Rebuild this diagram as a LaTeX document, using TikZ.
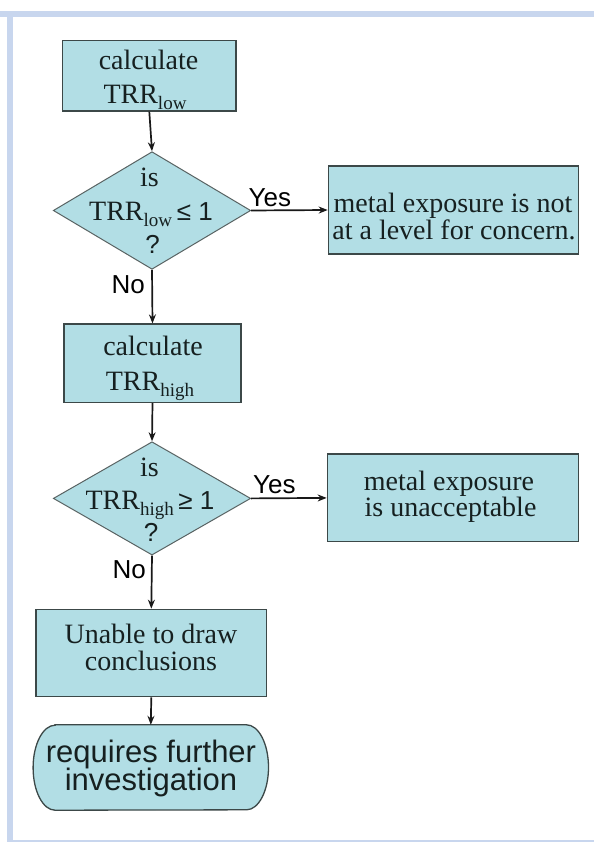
\documentclass[tikz,border=0pt]{standalone}
\usepackage{fontspec}
\setmainfont{Liberation Serif}
\newfontfamily\sansf{Liberation Sans}
\usetikzlibrary{shapes.geometric,arrows.meta}
\definecolor{boxfill}{RGB}{178,222,229}
\definecolor{boxline}{RGB}{60,72,72}
\definecolor{framecol}{RGB}{200,214,238}
\definecolor{txt}{RGB}{22,32,32}
\newcommand\mysub[1]{\raisebox{-6pt}{\fontsize{19}{19}\selectfont #1}}
\newcommand\mysans[1]{{\sansf\fontsize{26}{26}\selectfont #1}}
\begin{document}
\begin{tikzpicture}[x=1pt,y=-1pt,
  procbox/.style={draw=boxline,line width=1.3pt,fill=boxfill,inner sep=0pt},
  decbox/.style={shape=diamond,draw=boxline!85,line width=1pt,fill=boxfill,inner sep=0pt},
  termbox/.style={draw=none,inner sep=0pt},
  sertxt/.style={anchor=base,text=txt,font=\fontsize{28}{28}\selectfont,inner sep=0pt},
  santxt/.style={anchor=base,text=txt,font=\sansf\fontsize{26}{26}\selectfont,inner sep=0pt},
  lbltxt/.style={anchor=base west,text=black,font=\sansf\fontsize{26}{26}\selectfont,inner sep=0pt},
  termtxt/.style={anchor=base,text=txt,font=\sansf\fontsize{31}{31}\selectfont,inner sep=0pt},
  flow/.style={-{Stealth[length=9pt,width=7pt]},line width=1.7pt,draw=black!90}]
\useasboundingbox (0,0) rectangle (594,842);
\fill[white] (0,0) rectangle (594,842);
% frame
\fill[framecol] (0,11) rectangle (594,17);
\fill[framecol] (7,11) rectangle (13,841);
\fill[framecol] (7,840) rectangle (594,841.5);

% shapes
\node[procbox,minimum width=173.3pt,minimum height=70.3pt] (b1) at (149.3,75.9) {};
\node[decbox,minimum width=197.4pt,minimum height=117.6pt] (d1) at (152,210.5) {};
\node[procbox,minimum width=250pt,minimum height=88pt] (b2) at (453.3,210) {};
\node[procbox,minimum width=177pt,minimum height=78.3pt] (b3) at (152.5,363.2) {};
\node[decbox,minimum width=197.4pt,minimum height=113.3pt] (d2) at (152,498.4) {};
\node[procbox,minimum width=251pt,minimum height=87.7pt] (b4) at (452.8,497.9) {};
\node[procbox,minimum width=230.7pt,minimum height=87.4pt] (b5) at (151.3,653) {};
\node[termbox,minimum width=235pt,minimum height=85pt] (t) at (150.8,767.5) {};
\draw[draw=boxline,line width=1.3pt,fill=boxfill]
  ([xshift=22pt]t.north west) -- ([xshift=-22pt]t.north east)
  arc[start angle=90,end angle=-90,x radius=22pt,y radius=42.5pt]
  -- ([xshift=22pt]t.south west)
  arc[start angle=270,end angle=90,x radius=22pt,y radius=42.5pt] -- cycle;

% texts
\node[sertxt] (b1a) at (148.5,69.3) {calculate};
\node[sertxt] (b1b) at (145,104) {TRR\mysub{low}};
\node[sertxt] (d1a) at (149.5,186.7) {is};
\node[sertxt] (d1b) at (151,220.7) {TRR\mysub{low}\,\mysans{≤ 1}};
\node[santxt] (d1c) at (152.5,253.3) {?};
\node[sertxt] (b2a) at (453,213) {metal exposure is not};
\node[sertxt] (b2b) at (454,239) {at a level for concern.};
\node[sertxt] (b3a) at (153,355) {calculate};
\node[sertxt] (b3b) at (150,390) {TRR\mysub{high}};
\node[sertxt] (d2a) at (149.5,476.7) {is};
\node[sertxt] (d2b) at (150,509.3) {TRR\mysub{high}\,\mysans{≥ 1}};
\node[santxt] (d2c) at (151,541.7) {?};
\node[sertxt] (b4a) at (449,490) {metal exposure};
\node[sertxt] (b4b) at (450.5,516) {is unacceptable};
\node[sertxt] (b5a) at (151,643.3) {Unable to draw};
\node[sertxt] (b5b) at (151,670) {conclusions};
\node[termtxt] (ta) at (151,762) {requires further};
\node[termtxt] (tb) at (151,790) {investigation};

% labels
\node[lbltxt] (y1) at (248.5,206.7) {Yes};
\node[lbltxt] (n1) at (111.5,293.3) {No};
\node[lbltxt] (y2) at (253,493.3) {Yes};
\node[lbltxt] (n2) at (112.5,578) {No};

% connectors
\draw[flow] (b1.south) -- (d1.north);
\draw[flow] (d1.east) -- (b2.west);
\draw[flow] (d1.south) -- (b3.north);
\draw[flow] (b3.south) -- (d2.north);
\draw[flow] (d2.east) -- (b4.west);
\draw[flow] (d2.south) -- (b5.north);
\draw[flow] (b5.south) -- (t.north);
\end{tikzpicture}
\end{document}
